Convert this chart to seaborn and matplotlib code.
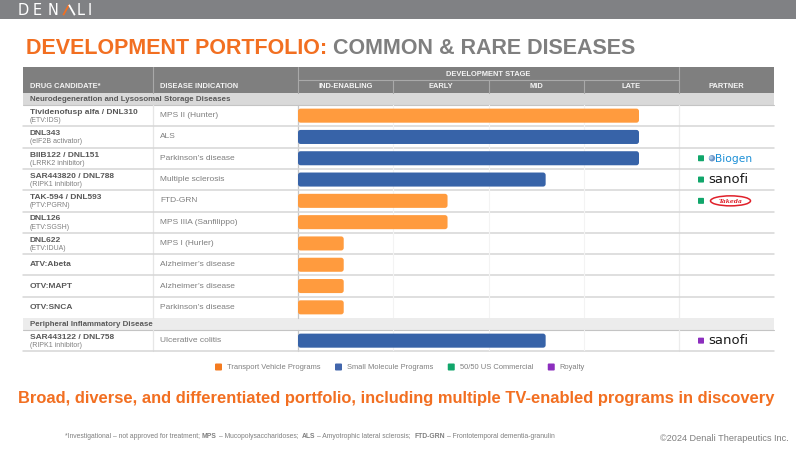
import matplotlib
matplotlib.use("Agg")
import matplotlib.pyplot as plt
from matplotlib import font_manager
from matplotlib.patches import Rectangle, FancyBboxPatch, Ellipse, Circle
import numpy as np
import pandas as pd
import seaborn as sns

# ---------------- data ----------------
stages = ["IND-ENABLING", "EARLY", "MID", "LATE"]
section_names = ["Neurodegeneration and Lysosomal Storage Diseases",
                 "Peripheral Inflammatory Disease"]
drugs = ["Tividenofusp alfa / DNL310", "DNL343", "BIIB122 / DNL151",
         "SAR443820 / DNL788", "TAK-594 / DNL593", "DNL126", "DNL622",
         "ATV:Abeta", "OTV:MAPT", "OTV:SNCA", "SAR443122 / DNL758"]
drug_notes = ["(ETV:IDS)", "(eIF2B activator)", "(LRRK2 inhibitor)",
              "(RIPK1 inhibitor)", "(PTV:PGRN)", "(ETV:SGSH)", "(ETV:IDUA)",
              "", "", "", "(RIPK1 inhibitor)"]
indications = ["MPS II (Hunter)", "ALS", "Parkinson’s disease",
               "Multiple sclerosis", "FTD-GRN", "MPS IIIA (Sanfilippo)",
               "MPS I (Hurler)", "Alzheimer’s disease", "Alzheimer’s disease",
               "Parkinson’s disease", "Ulcerative colitis"]
drug_section = [0, 0, 0, 0, 0, 0, 0, 0, 0, 0, 1]
program_type = ["Transport Vehicle Programs", "Small Molecule Programs",
                "Small Molecule Programs", "Small Molecule Programs",
                "Transport Vehicle Programs", "Transport Vehicle Programs",
                "Transport Vehicle Programs", "Transport Vehicle Programs",
                "Transport Vehicle Programs", "Transport Vehicle Programs",
                "Small Molecule Programs"]
stage_progress = [3.58, 3.58, 3.58, 2.60, 1.57, 1.57, 0.48, 0.48, 0.48, 0.48, 2.60]
partner = ["", "", "Biogen", "sanofi", "Takeda", "", "", "", "", "", "sanofi"]
partner_deal = ["", "", "50/50 US Commercial", "50/50 US Commercial",
                "50/50 US Commercial", "", "", "", "", "", "Royalty"]
legend_labels = ["Transport Vehicle Programs", "Small Molecule Programs",
                 "50/50 US Commercial", "Royalty"]
header_cols = ["DRUG CANDIDATE*", "DISEASE INDICATION", "DEVELOPMENT STAGE", "PARTNER"]
title_main = "DEVELOPMENT PORTFOLIO:"
title_sub = "COMMON & RARE DISEASES"
tagline = ("Broad, diverse, and differentiated portfolio, including multiple "
           "TV-enabled programs in discovery")
footnote = [("*Investigational – not approved for treatment;", "normal", 1),
            ("MPS", "bold", 1), ("– Mucopolysaccharidoses;", "normal", 2),
            ("ALS", "bold", 1), ("– Amyotrophic lateral sclerosis;", "normal", 2),
            ("FTD-GRN", "bold", 1), ("– Frontotemporal dementia-granulin", "normal", 0)]
copyright_text = "©2024 Denali Therapeutics Inc."
logo_letters = ["D", "E", "N", "Λ", "L", "I"]

# ---------------- styles ----------------
bar_palette = {"Transport Vehicle Programs": "#FF9B3E",
               "Small Molecule Programs": "#3763A8"}
legend_colors = {"Transport Vehicle Programs": "#F47B20",
                 "Small Molecule Programs": "#4266AC",
                 "50/50 US Commercial": "#11A66B",
                 "Royalty": "#8C2EBE"}
ORANGE = "#F26F21"
GRAY_T = "#7f7f7f"
DARK_T = "#595959"
HDR_BG = "#7f7f7f"
HDR_LINE = "#a9a9a9"

sns.set_style("white")
names = {f.name for f in font_manager.fontManager.ttflist}
SANS = "Liberation Sans" if "Liberation Sans" in names else "DejaVu Sans"
NARROW = "Liberation Sans Narrow" if "Liberation Sans Narrow" in names else SANS
plt.rcParams["font.family"] = [SANS, "DejaVu Sans"]

W, H = 796, 449
fig = plt.figure(figsize=(W / 100, H / 100), dpi=100)
fig.patch.set_facecolor("white")
bg = fig.add_axes([0, 0, 1, 1])
bg.set_xlim(0, W)
bg.set_ylim(H, 0)
bg.axis("off")
renderer = fig.canvas.get_renderer()


def tw(t):
    return t.get_window_extent(renderer=renderer).width


def fit_text(x, y, s, width, size0=8, **kw):
    t = bg.text(x, y, s, fontsize=size0, **kw)
    t.set_fontsize(size0 * width / tw(t))
    return t


def rich(x, y, pieces, size, family, color, target=None):
    def draw(sz):
        arts = []
        xx = x
        for s, wt, gap in pieces:
            t = bg.text(xx, y, s, fontsize=sz, family=family, fontweight=wt,
                        color=color, va="baseline", ha="left")
            arts.append(t)
            xx += tw(t) + gap * 0.278 * sz * 100 / 72
        return arts, xx - x
    arts, w = draw(size)
    if target:
        for a in arts:
            a.remove()
        arts, w = draw(size * target / w)
    return arts


# ---------------- layout ----------------
X0, X_DIS, X_STG, X_PART, X1 = 23, 153, 298, 679, 774
HDR_TOP, HDR_MID, HDR_BOT = 67, 80, 93
SEC_H, ROW_H = 12, 21.3
n_st = len(stages)
st_w = (X_PART - X_STG) / n_st

# banner + logo
bg.add_patch(Rectangle((0, 0), W, 19, fc="#808184", ec="none"))
logo_x = [23, 37.5, 53, 69, 81, 90]
for lx, ch in zip(logo_x, logo_letters):
    if ch == "Λ":
        bg.plot([63.2, 69], [15.2, 4.8], color=ORANGE, lw=1.3, solid_capstyle="butt")
        bg.plot([69, 74.8], [4.8, 15.2], color="white", lw=1.3, solid_capstyle="butt")
    else:
        bg.text(lx, 10.3, ch, color="white", fontsize=10.5, family="DejaVu Sans",
                fontweight="normal", ha="center", va="center")

# title
t1 = bg.text(26, 54, title_main, color=ORANGE, fontsize=15.5, fontweight="bold",
             family=SANS, va="baseline")
bg.text(26 + tw(t1) + 0.278 * 15.5 * 100 / 72, 54, title_sub, color=GRAY_T,
        fontsize=15.5, fontweight="bold", family=SANS, va="baseline")

# table header
bg.add_patch(Rectangle((X0, HDR_TOP), X1 - X0, HDR_BOT - HDR_TOP, fc=HDR_BG, ec="none"))
for xv in (X_DIS, X_STG, X_PART):
    bg.plot([xv, xv], [HDR_TOP, HDR_BOT], color=HDR_LINE, lw=0.8)
bg.plot([X_STG, X_PART], [HDR_MID, HDR_MID], color=HDR_LINE, lw=0.8)
for i in range(1, n_st):
    xv = X_STG + i * st_w
    bg.plot([xv, xv], [HDR_MID, HDR_BOT], color=HDR_LINE, lw=0.8)
hk = dict(color="#f4f4f4", fontsize=5.4, fontweight="bold", va="center")
y_sub = (HDR_MID + HDR_BOT) / 2 + 0.5
bg.text(30, y_sub, header_cols[0], ha="left", **hk)
bg.text(160, y_sub, header_cols[1], ha="left", **hk)
bg.text((X_STG + X_PART) / 2, (HDR_TOP + HDR_MID) / 2 + 0.5, header_cols[2], ha="center", **hk)
bg.text((X_PART + X1) / 2, y_sub, header_cols[3], ha="center", **hk)
for i, st in enumerate(stages):
    bg.text(X_STG + (i + 0.5) * st_w, y_sub, st, ha="center", **hk)

df = pd.DataFrame({"drug": drugs, "progress": stage_progress, "type": program_type,
                   "section": drug_section})

sec_fc = ["#d9d9d9", "#ececec"]
y = HDR_BOT
row_centers = {}
for s, sname in enumerate(section_names):
    # section band
    bg.add_patch(Rectangle((X0, y), X1 - X0, SEC_H, fc=sec_fc[s], ec="none"))
    bg.plot([X0, X1], [y + SEC_H, y + SEC_H], color="#c4c4c4", lw=0.8)
    bg.text(30, y + SEC_H / 2 + 0.5, sname, color=DARK_T, fontsize=5.7,
            fontweight="bold", va="center", ha="left")
    y += SEC_H
    idx = [i for i, d in enumerate(drug_section) if d == s]
    top, bot = y, y + len(idx) * ROW_H
    # vertical column lines in body
    bg.plot([X_DIS, X_DIS], [top, bot], color="#e6e6e6", lw=0.9)
    bg.plot([X_PART, X_PART], [top, bot], color="#ececec", lw=0.9)
    bg.plot([X_STG, X_STG], [top, bot], color="#c6c6c6", lw=0.9)
    for k, i in enumerate(idx):
        yc = top + (k + 0.5) * ROW_H
        row_centers[i] = yc
        if k < len(idx) - 1 or s == len(section_names) - 1:
            bg.plot([X0, X1], [top + (k + 1) * ROW_H] * 2, color="#d6d6d6", lw=1.1)
    # bars via seaborn
    ax = fig.add_axes([X_STG / W, 1 - bot / H, (X_PART - X_STG) / W, (bot - top) / H])
    sub = df.iloc[idx]
    sns.barplot(data=sub, x="progress", y="drug", hue="type", palette=bar_palette,
                order=list(sub["drug"]), dodge=False, width=0.66, saturation=1,
                errorbar=None, legend=False, orient="h", ax=ax)
    ax.set_xlim(0, n_st)
    ax.set_xticks(range(1, n_st))
    ax.grid(axis="x", color="#f3f3f3", lw=0.8)
    ax.grid(axis="y", visible=False)
    ax.set_axisbelow(True)
    ax.patch.set_alpha(0)
    ax.set_xlabel("")
    ax.set_ylabel("")
    ax.tick_params(length=0, labelbottom=False, labelleft=False)
    for sp in ax.spines.values():
        sp.set_visible(False)
    pxx = (X_PART - X_STG) / n_st
    pxy = ROW_H
    for p in list(ax.patches):
        if not isinstance(p, Rectangle):
            continue
        w = p.get_width()
        if not np.isfinite(w) or w == 0:
            continue
        fb = FancyBboxPatch((p.get_x(), p.get_y()), w, p.get_height(),
                            boxstyle="round,pad=0,rounding_size=%f" % (2.6 / pxx),
                            mutation_aspect=pxx / pxy, fc=p.get_facecolor(),
                            ec="none", zorder=p.get_zorder())
        p.remove()
        ax.add_patch(fb)
    y = bot

# row texts + partners
for i in range(len(drugs)):
    yc = row_centers[i]
    if drug_notes[i]:
        bg.text(30, yc - 3.2, drugs[i], color=DARK_T, fontsize=6.0, fontweight="bold",
                va="center", ha="left")
        bg.text(30, yc + 5.0, drug_notes[i], color=GRAY_T, fontsize=5.0,
                va="center", ha="left")
    else:
        bg.text(30, yc, drugs[i], color=DARK_T, fontsize=6.0, fontweight="bold",
                va="center", ha="left")
    bg.text(160, yc, indications[i], color=GRAY_T, fontsize=6.0, va="center", ha="left")
    if partner[i]:
        c = legend_colors[partner_deal[i]]
        bg.add_patch(FancyBboxPatch((698, yc - 3), 6, 6, boxstyle="round,pad=0,rounding_size=0.8",
                                    fc=c, ec="none"))
        if partner[i] == "Biogen":
            bg.add_patch(Circle((712, yc), 3.2, fc="#6f97c8", ec="none"))
            bg.add_patch(Circle((711, yc - 0.6), 1.9, fc="#a8c8e6", ec="none"))
            fit_text(715.5, yc + 0.6, "Biogen", 37, color="#1b8fd6", family="DejaVu Sans",
                     va="center", ha="left")
        elif partner[i] == "sanofi":
            fit_text(708, yc + 0.3, "sanofi", 40, color="#1a1a1a", family="DejaVu Sans",
                     fontweight="normal", va="center", ha="left")
        elif partner[i] == "Takeda":
            bg.add_patch(Ellipse((730.5, yc), 40, 10, fc="white", ec="#e0202a", lw=1.1))
            fit_text(718.5, yc + 0.4, "Takeda", 24, color="#e0202a", family="DejaVu Serif",
                     fontstyle="italic", fontweight="bold", va="center", ha="left")

# legend
lx = 215
for lab in legend_labels:
    bg.add_patch(FancyBboxPatch((lx, 363.5), 7, 7, boxstyle="round,pad=0,rounding_size=1",
                                fc=legend_colors[lab], ec="none"))
    t = bg.text(lx + 12, 367.3, lab, color=GRAY_T, fontsize=5.4, family=NARROW,
                va="center", ha="left")
    lx += 12 + tw(t) + 14.5

# tagline
fit_text(18, 402.5, tagline, 764, color=ORANGE, family=NARROW, fontweight="bold",
         va="baseline", ha="left")

# footnote + copyright
rich(65, 438, footnote, 4.5, NARROW, GRAY_T, target=485)
fit_text(789, 441, copyright_text, 128, color=GRAY_T, family=SANS, va="baseline", ha="right")

fig.savefig("out.png", dpi=100, facecolor="white")
